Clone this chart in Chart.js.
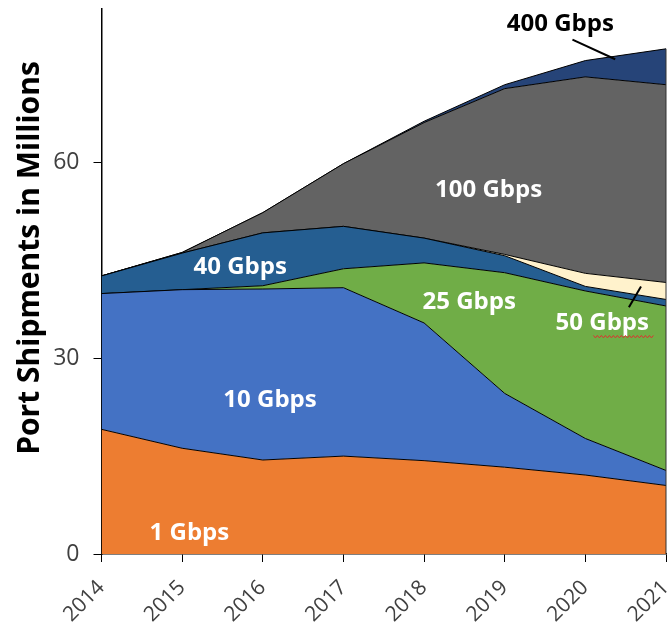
<!DOCTYPE html>
<html>
<head>
<meta charset="utf-8">
<script src="https://cdn.jsdelivr.net/npm/chart.js@4"></script>
<style>
  html, body { margin: 0; padding: 0; background: #fff; }
  #wrap { width: 669px; height: 623px; position: relative; }
</style>
</head>
<body>
<div id="wrap"><canvas id="ports"></canvas></div>
<script>
// ── Data (millions of ports shipped) ─────────────────────
const years   = ["2014", "2015", "2016", "2017", "2018", "2019", "2020", "2021"];
const gbe1    = [19.1, 16.2, 14.4, 15.0, 14.3, 13.3, 12.1, 10.5];
const gbe10   = [20.8, 24.3, 26.2, 25.8, 21.1, 11.3, 5.6, 2.3];
const gbe25   = [0, 0, 0.5, 2.9, 9.2, 18.5, 22.6, 25.2];
const gbe40   = [2.7, 5.6, 8.1, 6.5, 3.8, 2.6, 0.7, 1.0];
const gbe50   = [0, 0, 0, 0, 0, 0.2, 2.0, 2.6];
const gbe100  = [0, 0.1, 3.1, 9.6, 17.7, 25.4, 30.1, 30.3];
const gbe400  = [0, 0, 0, 0, 0.2, 0.6, 2.5, 5.5];
const yTicks  = [0, 30, 60];

// in-chart labels, placed in data units (x = year index, y = millions)
const tagText = ["400 Gbps", "100 Gbps", "40 Gbps", "25 Gbps", "50 Gbps", "10 Gbps", "1 Gbps"];
const tagX    = [5.69, 4.80, 1.72, 4.56, 6.21, 2.09, 1.09];
const tagY    = [81.2, 55.8, 43.9, 38.6, 35.4, 23.6, 3.2];

const FONT = "'Open Sans', sans-serif";
const INK = "#404040";

const series = [
  { label: "1 Gbps",   data: gbe1,   color: "#ED7D31" },
  { label: "10 Gbps",  data: gbe10,  color: "#4472C4" },
  { label: "25 Gbps",  data: gbe25,  color: "#70AD47" },
  { label: "40 Gbps",  data: gbe40,  color: "#255E91" },
  { label: "50 Gbps",  data: gbe50,  color: "#FFF2CC" },
  { label: "100 Gbps", data: gbe100, color: "#636363" },
  { label: "400 Gbps", data: gbe400, color: "#264478" },
];

// ── Labels, leader lines and the closing edge on the right ──
const overlay = {
  id: "overlay",
  afterDatasetsDraw(chart) {
    const { ctx, scales: { x, y } } = chart;
    ctx.save();

    // right-hand outline of the stacked area
    const last = years.length - 1;
    const total = series.reduce((s, d) => s + d.data[last], 0);
    ctx.strokeStyle = "#333";
    ctx.lineWidth = 1;
    ctx.beginPath();
    ctx.moveTo(x.getPixelForValue(last), y.getPixelForValue(0));
    ctx.lineTo(x.getPixelForValue(last), y.getPixelForValue(total));
    ctx.stroke();

    // leader lines
    ctx.strokeStyle = "#000";
    ctx.lineWidth = 2;
    const leader = (x0, y0, x1, y1) => {
      ctx.beginPath();
      ctx.moveTo(x.getPixelForValue(x0), y.getPixelForValue(y0));
      ctx.lineTo(x.getPixelForValue(x1), y.getPixelForValue(y1));
      ctx.stroke();
    };
    leader(5.84, 78.8, 6.37, 75.8);   // 400 Gbps
    leader(6.54, 37.8, 6.69, 41.0);   // 50 Gbps

    ctx.font = `bold 24px ${FONT}`;
    ctx.textAlign = "center";
    ctx.textBaseline = "middle";
    tagText.forEach((t, i) => {
      ctx.fillStyle = i === 0 ? "#000" : "#fff";
      ctx.fillText(t, x.getPixelForValue(tagX[i]), y.getPixelForValue(tagY[i]));
    });

    // spell-check squiggle under "Gbps"
    const sx = x.getPixelForValue(6.10), ex = x.getPixelForValue(6.85);
    const sy = y.getPixelForValue(33.3);
    ctx.strokeStyle = "#e03030";
    ctx.lineWidth = 1;
    ctx.beginPath();
    for (let px = sx, k = 0; px <= ex; px += 2, k++) {
      const py = sy + (k % 2 ? 1.2 : -1.2);
      k ? ctx.lineTo(px, py) : ctx.moveTo(px, py);
    }
    ctx.stroke();
    ctx.restore();

    // rotated year labels under the x axis (anchored at the baseline's right end)
    ctx.save();
    ctx.fillStyle = INK;
    ctx.font = `21px ${FONT}`;
    ctx.textAlign = "right";
    ctx.textBaseline = "alphabetic";
    const base = y.getPixelForValue(0) + 34.5;
    years.forEach((yr, i) => {
      ctx.save();
      ctx.translate(x.getPixelForValue(i) + 4, base);
      ctx.rotate(-Math.PI / 4);
      ctx.fillText(yr, 0, 0);
      ctx.restore();
    });
    ctx.restore();

    // axis title
    ctx.save();
    ctx.translate(30, 258);
    ctx.rotate(-Math.PI / 2);
    ctx.fillStyle = "#000";
    ctx.font = `bold 30px ${FONT}`;
    ctx.textAlign = "center";
    ctx.textBaseline = "middle";
    ctx.fillText("Port Shipments in Millions", 0, 0);
    ctx.restore();
  },
};

new Chart(document.getElementById("ports"), {
  type: "line",
  data: {
    labels: years,
    datasets: series.map((s, i) => ({
      label: s.label,
      data: s.data,
      backgroundColor: s.color,
      borderColor: "#000",
      borderWidth: 1,
      fill: i === 0 ? "origin" : "-1",
      pointRadius: 0,
      tension: 0,
    })),
  },
  options: {
    responsive: true,
    maintainAspectRatio: false,
    animation: false,
    layout: { padding: { top: 9, right: 3, left: 0, bottom: 0 } },
    plugins: { legend: { display: false }, tooltip: { enabled: false } },
    scales: {
      x: {
        offset: false,
        grid: { drawOnChartArea: false, drawTicks: true, tickLength: 8, color: "#000" },
        border: { color: "#000", width: 1.5 },
        ticks: { display: false },
        afterFit(s) { s.height = 69; s.paddingLeft = 0; s.paddingRight = 0; },
      },
      y: {
        stacked: true,
        min: 0,
        max: 83.5,
        grid: { drawOnChartArea: false, drawTicks: true, tickLength: 8, color: "#000" },
        border: { color: "#000", width: 1.5 },
        ticks: {
          color: INK,
          font: { family: FONT, size: 23 },
          stepSize: 30,
          padding: 14,
        },
        afterBuildTicks(s) { s.ticks = yTicks.map((v) => ({ value: v })); },
        afterFit(s) { s.width = 101.5; s.paddingTop = 0; s.paddingBottom = 0; },
      },
    },
  },
  plugins: [overlay],
});
</script>
</body>
</html>
